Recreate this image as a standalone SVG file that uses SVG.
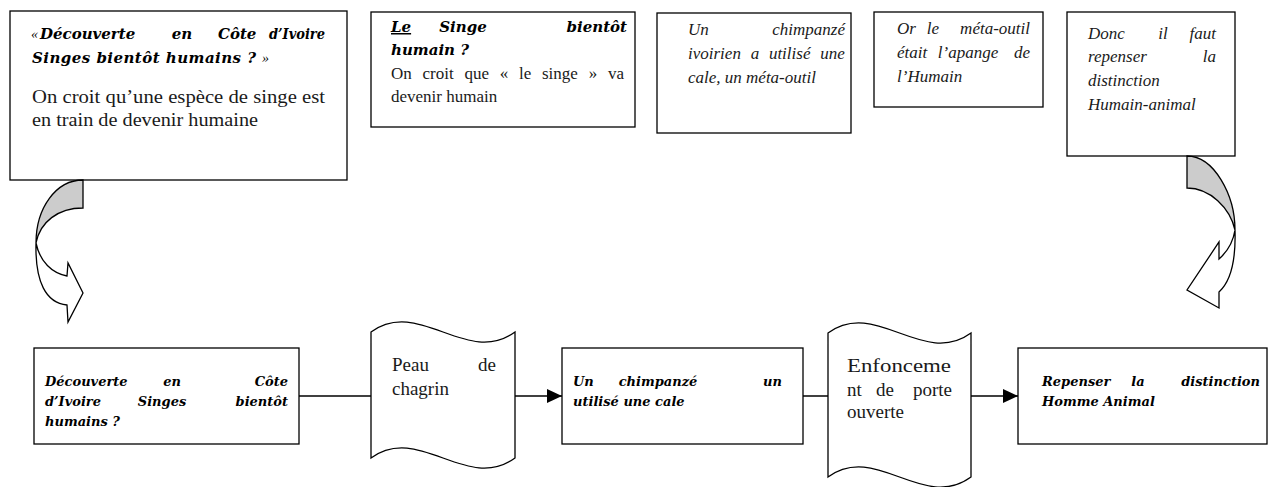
<svg xmlns="http://www.w3.org/2000/svg" width="1272" height="487" viewBox="0 0 1272 487">
<style>
.box{fill:#fff;stroke:#000;stroke-width:1.3}
.bi{font-family:"DejaVu Serif",serif;font-weight:bold;font-style:italic;font-size:15px;fill:#000}
.bi2{font-family:"DejaVu Serif",serif;font-weight:bold;font-style:italic;font-size:13px;fill:#000}
.r{font-family:"Liberation Serif",serif;font-size:17px;fill:#1a1a1a}
.r1{font-family:"Liberation Serif",serif;font-size:18px;fill:#1a1a1a}
.it{font-family:"Liberation Serif",serif;font-style:italic;font-size:17px;fill:#1a1a1a}
.q{font-family:"Liberation Serif",serif;font-style:italic;font-size:14px;fill:#000}
.d{font-family:"Liberation Serif",serif;font-size:19px;fill:#1a1a1a}
.m{text-anchor:middle}
.e{text-anchor:end}
.ln{stroke:#000;stroke-width:1.5;fill:none}
.cg{fill:#cccccc;stroke:#000;stroke-width:1.3}
.cw{fill:#fff;stroke:#000;stroke-width:1.3}
</style>
<defs>
<marker id="ah" viewBox="0 0 15 14" refX="15" refY="7" markerWidth="15" markerHeight="14" markerUnits="userSpaceOnUse" orient="auto">
<path d="M0,0 L15,7 L0,14 Z" fill="#000"/>
</marker>
</defs>

<g id="n1">
<rect class="box" x="10" y="11" width="337" height="169"/>
<text class="q" x="31" y="39">«</text>
<text class="bi" x="40" y="39">Découverte</text>
<text class="bi m" x="182" y="39">en</text>
<text class="bi" x="218" y="39">Côte</text>
<text class="bi e" x="325" y="39" textLength="56" lengthAdjust="spacingAndGlyphs">d’Ivoire</text>
<text class="bi" x="32" y="63" textLength="224" lengthAdjust="spacing">Singes bientôt humains ?</text>
<text class="q" x="262" y="63">»</text>
<text class="r1" x="32" y="103" textLength="293" lengthAdjust="spacingAndGlyphs">On croit qu’une espèce de singe est</text>
<text class="r1" x="32" y="126" textLength="226" lengthAdjust="spacingAndGlyphs">en train de devenir humaine</text>
</g>

<g id="n2">
<rect class="box" x="371" y="12" width="264" height="115"/>
<text class="bi" x="391" y="32" text-decoration="underline">Le</text>
<text class="bi m" x="463" y="32">Singe</text>
<text class="bi e" x="627" y="32">bientôt</text>
<text class="bi" x="391" y="55">humain ?</text>
<text class="r" x="391" y="79" word-spacing="6.5">On croit que « le singe » va</text>
<text class="r" x="391" y="102">devenir humain</text>
</g>

<g id="n3">
<rect class="box" x="657" y="13" width="194" height="120"/>
<text class="it" x="688" y="35">Un</text>
<text class="it e" x="845" y="35">chimpanzé</text>
<text class="it" x="688" y="59" word-spacing="5.5">ivoirien a utilisé une</text>
<text class="it" x="688" y="83">cale, un méta-outil</text>
</g>

<g id="n4">
<rect class="box" x="874" y="12" width="169" height="95"/>
<text class="it" x="897" y="34">Or</text>
<text class="it m" x="933" y="34">le</text>
<text class="it e" x="1030" y="34">méta-outil</text>
<text class="it" x="897" y="58">était</text>
<text class="it m" x="968" y="58">l’apange</text>
<text class="it e" x="1030" y="58">de</text>
<text class="it" x="897" y="82">l’Humain</text>
</g>

<g id="n5">
<rect class="box" x="1067" y="12" width="168" height="144"/>
<text class="it" x="1088" y="39">Donc</text>
<text class="it m" x="1163" y="39">il</text>
<text class="it e" x="1216" y="39">faut</text>
<text class="it" x="1088" y="62">repenser</text>
<text class="it e" x="1216" y="62">la</text>
<text class="it" x="1088" y="86">distinction</text>
<text class="it" x="1088" y="110">Humain-animal</text>
</g>

<g id="nA">
<rect class="box" x="34" y="348" width="265" height="96"/>
<text class="bi2" x="45" y="386">Découverte</text>
<text class="bi2 m" x="172" y="386">en</text>
<text class="bi2 e" x="288" y="386">Côte</text>
<text class="bi2" x="45" y="406">d’Ivoire</text>
<text class="bi2 m" x="162" y="406">Singes</text>
<text class="bi2 e" x="288" y="406">bientôt</text>
<text class="bi2" x="45" y="426">humains ?</text>
</g>

<g id="nD1">
<path class="box" d="M371,332 C419,297 467,367 515,332 L515,458 C467,493 419,423 371,458 Z"/>
<text class="d" x="392" y="371">Peau</text>
<text class="d e" x="496" y="371">de</text>
<text class="d" x="392" y="395">chagrin</text>
</g>

<g id="nB">
<rect class="box" x="562" y="348" width="241" height="96"/>
<text class="bi2" x="573" y="386">Un</text>
<text class="bi2 m" x="658" y="386">chimpanzé</text>
<text class="bi2 e" x="782" y="386">un</text>
<text class="bi2" x="573" y="406">utilisé une cale</text>
</g>

<g id="nD2">
<path class="box" d="M828,333 C876,298 923,368 971,333 L971,477 C923,512 876,442 828,477 Z"/>
<text class="d" x="847" y="372" textLength="104" lengthAdjust="spacingAndGlyphs">Enfonceme</text>
<text class="d" x="847" y="396">nt</text>
<text class="d m" x="885" y="396">de</text>
<text class="d e" x="952" y="396">porte</text>
<text class="d" x="847" y="418">ouverte</text>
</g>

<g id="nC">
<rect class="box" x="1018" y="348" width="249" height="96"/>
<text class="bi2" x="1042" y="386">Repenser</text>
<text class="bi2 m" x="1138" y="386">la</text>
<text class="bi2 e" x="1260" y="386">distinction</text>
<text class="bi2" x="1042" y="406">Homme Animal</text>
</g>

<g id="connectors">
<line class="ln" x1="299" y1="396" x2="371" y2="396"/>
<line class="ln" x1="515" y1="396" x2="562" y2="396" marker-end="url(#ah)"/>
<line class="ln" x1="803" y1="396" x2="828" y2="396"/>
<line class="ln" x1="971" y1="396" x2="1018" y2="396" marker-end="url(#ah)"/>
<path class="cg" d="M83,180 L83,208 C58,208 40,222 36,243 C36,208 56,180 83,180 Z"/>
<path class="cw" d="M36,243 C40,262 52,273 67,276 L68,263 L83,293 L68,322 L67,305 C46,303 35,282 36,243 Z"/>
<path class="cg" d="M1187,156 C1214,156 1235,195 1235,230 C1230,208 1210,188 1187,188 Z"/>
<path class="cw" d="M1235,230 C1233,243 1227,252 1219,259 L1219,242 L1187,290 L1219,308 L1219,292 C1230,282 1236,262 1235,230 Z"/>
</g>
</svg>
